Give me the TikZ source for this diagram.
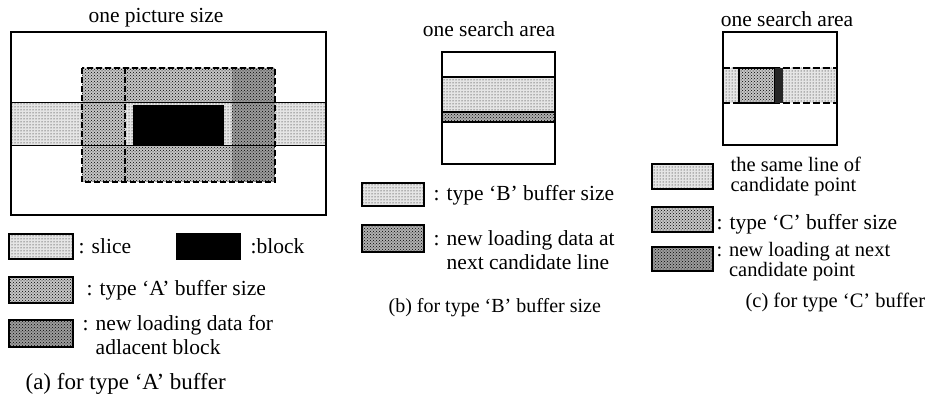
\documentclass[tikz,border=0pt]{standalone}
\usepackage{fontspec}
\setmainfont{Liberation Serif}
\usetikzlibrary{patterns}

% halftone fills and text styles
\tikzset{
  slicefill/.style={fill=gray!20,postaction={pattern=dots}},
  bufferfill/.style={fill=gray!45,postaction={pattern=crosshatch dots}},
  linefill/.style={fill=gray!62,postaction={pattern=crosshatch dots}},
  loadfill/.style={fill=gray!78,postaction={pattern=crosshatch dots}},
  keybox/.style={draw,line width=1.3pt},
  txt/.style={inner sep=0pt,font=\fontsize{21.5}{24}\selectfont},
  note/.style={txt,anchor=west,align=left},
  tight/.style={font=\fontsize{20.5}{20}\selectfont},
}

\begin{document}
\begin{tikzpicture}[x=1pt,y=-1pt,line width=1.2pt]
  \useasboundingbox (0,0) rectangle (929,395);

  % (a) buffer inside one picture
  \node[txt] (titleA) at (156,18) {one picture size};
  \fill[slicefill] (11,103) rectangle (326,146);
  \fill[bufferfill] (82,68) rectangle (232,182);
  \fill[loadfill] (232,68) rectangle (275,182);
  \fill[slicefill] (125,103) rectangle (232,146);
  \fill[black] (133,105) rectangle (224,145);
  \draw[line width=1pt] (11,103) -- (326,103) (11,146) -- (326,146);
  \draw[dash pattern=on 6pt off 3pt] (82,68) rectangle (275,182) (125,68) -- (125,182);
  \draw[line width=1.3pt] (11,32) rectangle (326,215);

  \draw[keybox,slicefill] (9,234) rectangle (73,259);
  \node[note] (keySlice) at (78,246) {: slice};
  \draw[keybox,fill=black] (177,234) rectangle (240,259);
  \node[note] (keyBlock) at (250,246) {:block};
  \draw[keybox,bufferfill] (9,277) rectangle (73,303);
  \node[note] (keyBufA) at (86,290) {: type `A' buffer size};
  \draw[keybox,loadfill] (9,320) rectangle (73,347);
  \node[note] (keyLoadA) at (82,335) {: new loading data for\\\hphantom{: }adlacent block};
  \node[note,font=\fontsize{23}{24}\selectfont] (capA) at (25,384) {(a) for type `A' buffer};

  % (b) one search area, line buffer
  \node[txt] (titleB) at (489,29) {one search area};
  \draw[slicefill] (442,77) rectangle (555,112);
  \draw[linefill] (442,112) rectangle (555,122);
  \draw[line width=1.3pt] (442,52) rectangle (555,164);

  \draw[keybox,slicefill] (362,183) rectangle (424,206);
  \node[note] (keyBufB) at (433,195) {: type `B' buffer size};
  \draw[keybox,linefill] (362,225) rectangle (424,252);
  \node[note] (keyLoadB) at (433,250) {: new loading data at\\\hphantom{: }next candidate line};
  \node[note,font=\fontsize{20}{24}\selectfont] (capB) at (388,308) {(b) for type `B' buffer size};

  % (c) one search area, point buffer
  \node[txt] (titleC) at (787,19) {one search area};
  \fill[slicefill] (723,68) rectangle (837,103);
  \draw[dash pattern=on 7pt off 3pt] (723,68) -- (837,68) (723,103) -- (837,103);
  \draw[bufferfill] (739,68) rectangle (775,103);
  \fill[black!85] (775,68) rectangle (783,103);
  \draw[line width=1.3pt] (723,32) rectangle (837,145);

  \draw[keybox,slicefill] (652,164) rectangle (713,189);
  \node[note,tight] (keyLineC) at (730,176) {the same line of\\candidate point};
  \draw[keybox,bufferfill] (652,207) rectangle (713,232);
  \node[note] (keyBufC) at (716,224) {: type `C' buffer size};
  \draw[keybox,loadfill] (652,247) rectangle (713,271);
  \node[note,tight] (keyLoadC) at (716,262) {: new loading at next\\\hphantom{: }candidate point};
  \node[note,font=\fontsize{20.5}{24}\selectfont] (capC) at (745,302) {(c) for type `C' buffer};
\end{tikzpicture}
\end{document}
